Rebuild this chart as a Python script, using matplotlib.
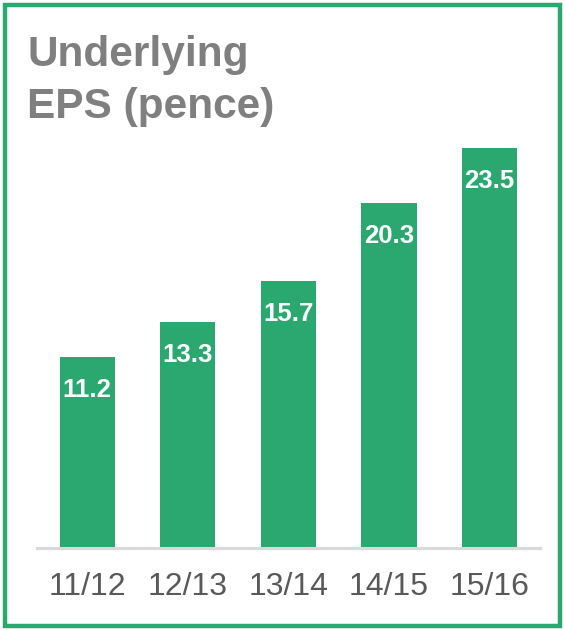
import matplotlib
matplotlib.use("Agg")
import matplotlib.pyplot as plt
from matplotlib.patches import Rectangle

# --- Data ---
years = ["11/12", "12/13", "13/14", "14/15", "15/16"]
eps = [11.2, 13.3, 15.7, 20.3, 23.5]

GREEN = "#2BA870"
GREY_TITLE = "#7F7F7F"
GREY_TICK = "#595959"

plt.rcParams['font.family'] = ['Liberation Sans', 'DejaVu Sans']

fig = plt.figure(figsize=(5.64, 6.3), dpi=100)
ax = fig.add_axes([0.0656, 0.1302, 0.8914, 0.675])

x = range(len(years))
bars = ax.bar(x, eps, width=0.55, color=GREEN, zorder=2)

for b, v in zip(bars, eps):
    ax.annotate(f"{v:.1f}", (b.get_x() + b.get_width() / 2, v),
                xytext=(0, -15), textcoords="offset points",
                ha="center", va="top", color="white",
                fontsize=18.5, fontweight="bold")

ax.set_xlim(-0.5, 4.5)
ax.set_ylim(0, 25)
ax.set_xticks(list(x))
ax.set_xticklabels(years, fontsize=23, color=GREY_TICK)
ax.tick_params(axis="x", length=0, pad=17)
ax.set_yticks([])
for side in ["top", "right", "left"]:
    ax.spines[side].set_visible(False)
ax.spines["bottom"].set_color("#D9D9D9")
ax.spines["bottom"].set_linewidth(2.2)

fig.text(27 / 564, 1 - 35 / 630, "Underlying\nEPS (pence)",
         ha="left", va="top", fontsize=30.5, fontweight="bold",
         color=GREY_TITLE, linespacing=1.38)

# green frame around the whole figure
fig.patches.append(Rectangle((4.5 / 564, 4.5 / 630), 1 - 9 / 564, 1 - 9 / 630,
                             transform=fig.transFigure, fill=False,
                             edgecolor=GREEN, linewidth=3.2))

fig.savefig("out.png", dpi=100)
